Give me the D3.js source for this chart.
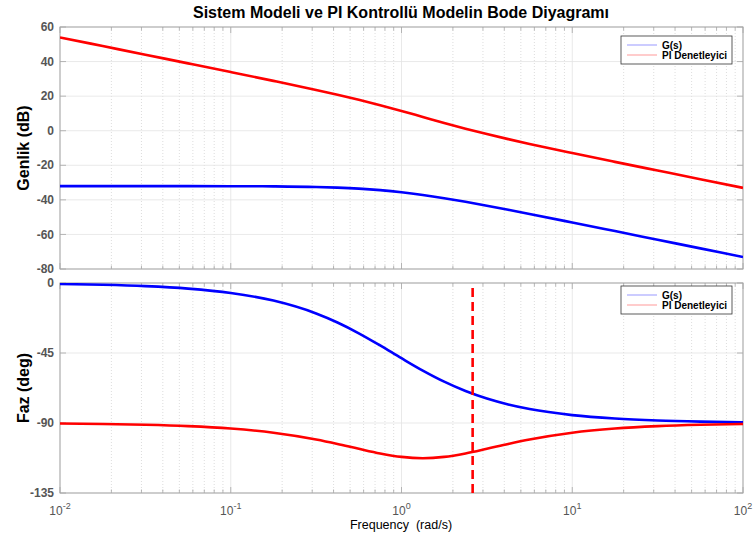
<!DOCTYPE html>
<html>
<head>
<meta charset="utf-8">
<script src="https://cdn.jsdelivr.net/npm/d3@7"></script>
<style>
  html, body { margin: 0; padding: 0; background: #fff; }
  svg { display: block; font-family: "Liberation Sans", Arial, Helvetica, sans-serif; }
</style>
</head>
<body>
<svg id="chart" width="756" height="538"></svg>
<script>
// ---- data ----
const freq = [0.01, 0.01778, 0.03162, 0.05623, 0.1, 0.1778, 0.3162, 0.4217, 0.5623, 0.75, 1, 1.333, 1.778, 2.371, 3.162, 4.217, 5.623, 10, 17.78, 31.62, 56.23, 100];
const gMag = [-32.04, -32.04, -32.05, -32.06, -32.09, -32.21, -32.56, -32.92, -33.50, -34.38, -35.59, -37.16, -39.03, -41.13, -43.39, -45.75, -48.17, -53.10, -58.07, -63.06, -68.06, -73.06];
const piMag = [53.98, 48.98, 43.97, 38.97, 33.94, 28.84, 23.57, 20.79, 17.85, 14.71, 11.40, 7.96, 4.52, 1.20, -1.93, -4.87, -7.66, -12.93, -18.02, -23.04, -28.06, -33.06];
const gPhase = [-0.64, -1.15, -2.04, -3.62, -6.42, -11.31, -19.58, -25.38, -32.32, -40.16, -48.37, -56.31, -63.43, -69.44, -74.30, -78.10, -81.02, -84.92, -87.14, -88.39, -89.09, -89.49];
const piPhase = [-90.36, -90.64, -91.13, -92.01, -93.56, -96.23, -100.60, -103.47, -106.62, -109.60, -111.80, -112.62, -111.80, -109.59, -106.61, -103.47, -100.60, -96.23, -93.56, -92.01, -91.13, -90.64];
const crossoverFreq = 2.61;
const magTicks = [60, 40, 20, 0, -20, -40, -60, -80];
const phaseTicks = [0, -45, -90, -135];
const xTickExps = [-2, -1, 0, 1, 2];
const seriesNames = ["G(s)", "PI Denetleyici"];
const seriesColors = ["#0000ff", "#ff0000"];
const titleText = "Sistem Modeli ve PI Kontrollü Modelin Bode Diyagramı";

// ---- layout ----
const svg = d3.select("#chart");
const left = 60, right = 743;
const x = d3.scaleLog().domain([0.01, 100]).range([left, right]);
const yMag = d3.scaleLinear().domain([-80, 60]).range([269, 27]);
const yPh = d3.scaleLinear().domain([-135, 0]).range([493, 283]);

const minorFreqs = [];
for (let e = -2; e < 2; e++) for (let m = 2; m <= 9; m++) minorFreqs.push(m * Math.pow(10, e));
const majorFreqs = xTickExps.map(e => Math.pow(10, e));

const axisColor = "#a6a6a6";
const labelColor = "#555555";

svg.append("text").attr("x", 401).attr("y", 18).attr("text-anchor", "middle")
  .attr("font-size", 16).attr("font-weight", "bold").attr("fill", "#000").text(titleText);

function panel(y, ticks, series, yLabel, legendTop, idx) {
  const g = svg.append("g");
  const [y0, y1] = y.range();
  const clipId = "clip" + idx;
  svg.append("clipPath").attr("id", clipId).append("rect")
    .attr("x", left).attr("y", y1).attr("width", right - left).attr("height", y0 - y1);
  g.selectAll(".mg").data(minorFreqs).join("line")
    .attr("x1", d => x(d)).attr("x2", d => x(d)).attr("y1", y1).attr("y2", y0)
    .attr("stroke", "#d4d4d4").attr("stroke-width", 0.8).attr("stroke-dasharray", "1,2");
  g.selectAll(".Mg").data(majorFreqs).join("line")
    .attr("x1", d => x(d)).attr("x2", d => x(d)).attr("y1", y1).attr("y2", y0)
    .attr("stroke", "#e3e3e3").attr("stroke-width", 0.8);
  g.selectAll(".hg").data(ticks).join("line")
    .attr("x1", left).attr("x2", right).attr("y1", d => y(d)).attr("y2", d => y(d))
    .attr("stroke", "#e3e3e3").attr("stroke-width", 0.8);
  const tk = g.append("g").attr("stroke", axisColor).attr("stroke-width", 0.8);
  minorFreqs.forEach(f => {
    tk.append("line").attr("x1", x(f)).attr("x2", x(f)).attr("y1", y0).attr("y2", y0 - 3.5);
    tk.append("line").attr("x1", x(f)).attr("x2", x(f)).attr("y1", y1).attr("y2", y1 + 3.5);
  });
  majorFreqs.forEach(f => {
    tk.append("line").attr("x1", x(f)).attr("x2", x(f)).attr("y1", y0).attr("y2", y0 - 6);
    tk.append("line").attr("x1", x(f)).attr("x2", x(f)).attr("y1", y1).attr("y2", y1 + 6);
  });
  ticks.forEach(t => {
    tk.append("line").attr("x1", left).attr("x2", left + 6).attr("y1", y(t)).attr("y2", y(t));
    tk.append("line").attr("x1", right).attr("x2", right - 6).attr("y1", y(t)).attr("y2", y(t));
  });
  g.append("rect").attr("x", left).attr("y", y1).attr("width", right - left).attr("height", y0 - y1)
    .attr("fill", "none").attr("stroke", axisColor).attr("stroke-width", 1);
  g.selectAll(".yl").data(ticks).join("text")
    .attr("x", left - 6).attr("y", d => y(d)).attr("dy", "0.35em").attr("text-anchor", "end")
    .attr("font-size", 12).attr("font-weight", "bold").attr("fill", labelColor).text(d => d);
  g.append("text").attr("transform", `translate(29,${(y0 + y1) / 2}) rotate(-90)`)
    .attr("text-anchor", "middle").attr("font-size", 16).attr("font-weight", "bold").attr("fill", "#000").text(yLabel);
  const line = d3.line().x((d, i) => x(freq[i])).y(d => y(d)).curve(d3.curveMonotoneX);
  const cg = g.append("g").attr("clip-path", `url(#${clipId})`);
  series.forEach((s, i) => {
    cg.append("path").attr("d", line(s)).attr("fill", "none")
      .attr("stroke", seriesColors[i]).attr("stroke-width", 2.6);
  });
  const lg = g.append("g");
  lg.append("rect").attr("x", 621).attr("y", legendTop).attr("width", 111).attr("height", 28)
    .attr("fill", "#fff").attr("stroke", "#333").attr("stroke-width", 0.8);
  seriesNames.forEach((n, i) => {
    const yy = legendTop + 9 + i * 10;
    lg.append("line").attr("x1", 627).attr("x2", 657).attr("y1", yy).attr("y2", yy)
      .attr("stroke", seriesColors[i]).attr("stroke-width", 0.8).attr("stroke-opacity", 0.5);
    lg.append("text").attr("x", 662).attr("y", yy).attr("dy", "0.35em")
      .attr("font-size", 10).attr("font-weight", "bold").attr("fill", "#000").text(n);
  });
  return cg;
}

panel(yMag, magTicks, [gMag, piMag], "Genlik (dB)", 36, 0);
const phCurves = panel(yPh, phaseTicks, [gPhase, piPhase], "Faz (deg)", 286, 1);

phCurves.append("line").attr("x1", x(crossoverFreq)).attr("x2", x(crossoverFreq))
  .attr("y1", 288).attr("y2", yPh(-135))
  .attr("stroke", "#ff0000").attr("stroke-width", 2.6).attr("stroke-dasharray", "9,5");

xTickExps.forEach(e => {
  const t = svg.append("text").attr("x", x(Math.pow(10, e))).attr("y", 515)
    .attr("text-anchor", "middle").attr("font-size", 12).attr("fill", labelColor);
  t.append("tspan").text("10");
  t.append("tspan").attr("dy", -6).attr("font-size", 9).text(e);
});
svg.append("text").attr("x", 401).attr("y", 529).attr("text-anchor", "middle")
  .style("white-space", "pre").attr("xml:space", "preserve")
  .attr("font-size", 12.5).attr("fill", "#000").text("Frequency  (rad/s)");
</script>
</body>
</html>
